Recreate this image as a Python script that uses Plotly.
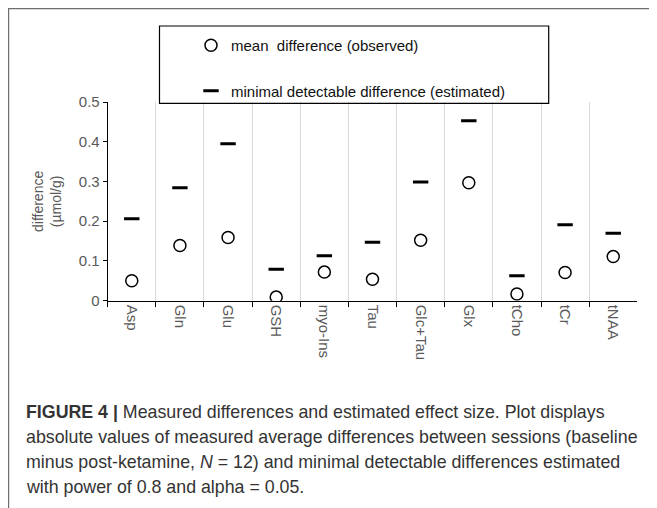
import plotly.graph_objects as go

categories = ["Asp", "Gln", "Glu", "GSH", "myo-Ins", "Tau", "Glc+Tau", "Glx", "tCho", "tCr", "tNAA"]
mean_diff = [0.050, 0.139, 0.159, 0.009, 0.072, 0.054, 0.152, 0.297, 0.017, 0.071, 0.111]
min_detect = [0.206, 0.284, 0.395, 0.079, 0.113, 0.147, 0.299, 0.453, 0.063, 0.191, 0.170]
y_ticks = [0, 0.1, 0.2, 0.3, 0.4, 0.5]
y_tick_text = ["0", "0.1", "0.2", "0.3", "0.4", "0.5"]

# page body has an 8px margin; figure is sized to fill the rest of the window
OFF = 8
W, H = 657 - OFF, 508 - OFF
def px(x):
    return (x - OFF) / W
def py(y):
    return 1 - (y - OFF) / H

FONT = "Liberation Sans, Arial, sans-serif"
GRAY = "#595959"

fig = go.Figure()
fig.add_trace(go.Scatter(
    x=categories, y=mean_diff, mode="markers", name="mean  difference (observed)",
    legendgroup="a",
    marker=dict(symbol="circle-open", size=12, color="black", line=dict(width=1.5, color="black")),
))
fig.add_trace(go.Scatter(
    x=categories, y=min_detect, mode="markers", name="minimal detectable difference (estimated)",
    legendgroup="b",
    marker=dict(symbol="line-ew", size=11, color="black", line=dict(width=3, color="black")),
))

fig.update_layout(
    width=W, height=H,
    margin=dict(l=0, r=0, t=0, b=0),
    paper_bgcolor="white", plot_bgcolor="white",
    font=dict(family=FONT, size=13, color="black"),
    showlegend=True,
    legend=dict(
        x=px(191), y=py(29), xanchor="left", yanchor="top",
        bgcolor="rgba(0,0,0,0)", borderwidth=0,
        font=dict(family=FONT, size=15, color="#111111"),
        tracegroupgap=23, traceorder="grouped",
    ),
    xaxis=dict(
        domain=[px(107.7), px(637.3)],
        type="category", categoryorder="array", categoryarray=categories,
        range=[-0.5, 10.5], tickson="boundaries",
        showgrid=True, gridcolor="#d9d9d9", gridwidth=1,
        showline=True, linecolor="black", linewidth=1,
        ticks="outside", ticklen=5, tickcolor="black",
        tickangle=90, tickfont=dict(family=FONT, size=15, color=GRAY),
        automargin=False, zeroline=False, fixedrange=True,
    ),
    yaxis=dict(
        domain=[py(300.7), py(102)],
        range=[0, 0.5], tickvals=y_ticks, ticktext=y_tick_text,
        showgrid=False, zeroline=False,
        showline=True, linecolor="black", linewidth=1,
        ticks="outside", ticklen=4, tickcolor="black",
        tickfont=dict(family=FONT, size=15, color=GRAY),
        automargin=False, fixedrange=True,
    ),
    shapes=[
        dict(type="line", xref="paper", yref="paper", x0=px(8.2), x1=1, y0=py(8.2), y1=py(8.2),
             line=dict(color="#6e6e6e", width=2)),
        dict(type="line", xref="paper", yref="paper", x0=px(8.2), x1=px(8.2), y0=py(8.2), y1=0,
             line=dict(color="#6e6e6e", width=2)),
        dict(type="rect", xref="paper", yref="paper", x0=px(159.5), x1=px(548.7), y0=py(103.3), y1=py(26),
             line=dict(color="black", width=1.2), fillcolor="rgba(0,0,0,0)", layer="above"),
    ],
)

annotations = [
    dict(text="difference<br>(µmol/g)", x=px(47), y=py(202), xref="paper", yref="paper",
         textangle=-90, showarrow=False, xanchor="center", yanchor="middle",
         font=dict(family=FONT, size=14, color=GRAY)),
]
caption = [
    "<b>FIGURE 4 |</b> Measured differences and estimated effect size. Plot displays",
    "absolute values of measured average differences between sessions (baseline",
    "minus post-ketamine, <i>N</i> = 12) and minimal detectable differences estimated",
    "with power of 0.8 and alpha = 0.05.",
]
for i, line in enumerate(caption):
    annotations.append(dict(
        text=line, x=px(24), y=py(412 + 25 * i), xref="paper", yref="paper",
        showarrow=False, xanchor="left", yanchor="middle", align="left",
        font=dict(family=FONT, size=17.8, color="#333333"),
    ))
fig.update_layout(annotations=annotations)

fig.write_html("out.html")
